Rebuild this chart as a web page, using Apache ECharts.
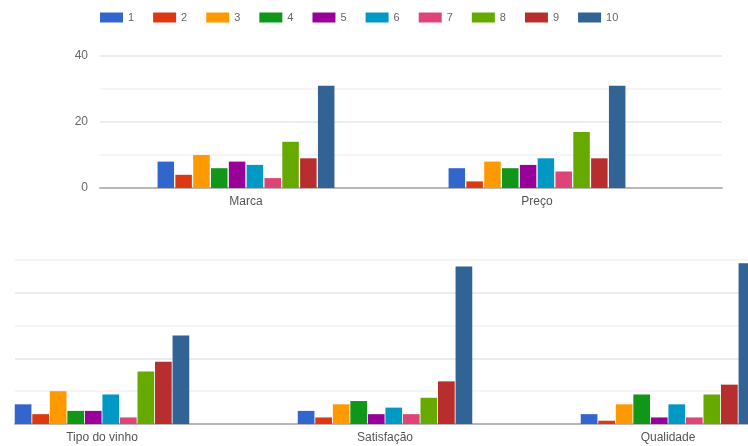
<!DOCTYPE html>
<html>
<head>
<meta charset="utf-8">
<script src="https://cdn.jsdelivr.net/npm/echarts@6/dist/echarts.min.js"></script>
<style>
  html, body { margin: 0; padding: 0; background: #fff; }
  #chart { width: 748px; height: 446px; }
</style>
</head>
<body>
<div id="chart"></div>
<script>
// categories (top row / bottom row)
const catsTop = ['Marca', 'Preço'];
const catsBottom = ['Tipo do vinho', 'Satisfação', 'Qualidade'];

// rating counts, one array per rating: [Marca, Preço, Tipo do vinho, Satisfação, Qualidade]
const r1 = [8, 6, 6, 4, 3];
const r2 = [4, 2, 3, 2, 1];
const r3 = [10, 8, 10, 6, 6];
const r4 = [6, 6, 4, 7, 9];
const r5 = [8, 7, 4, 3, 2];
const r6 = [7, 9, 9, 5, 6];
const r7 = [3, 5, 2, 3, 2];
const r8 = [14, 17, 16, 8, 9];
const r9 = [9, 9, 19, 13, 12];
const r10 = [31, 31, 27, 48, 49];

const ratings = ['1', '2', '3', '4', '5', '6', '7', '8', '9', '10'];
const values = [r1, r2, r3, r4, r5, r6, r7, r8, r9, r10];
const colors = ['#3366cc', '#dc3912', '#ff9900', '#109618', '#990099',
                '#0099c6', '#dd4477', '#66aa00', '#b82e2e', '#316395'];

const FONT = 'Liberation Sans, Arial, sans-serif';
const gridColors = ['#e6e6e6', '#f2f2f2'];

const chart = echarts.init(document.getElementById('chart'));

// grids: 0 = top bars, 1 = top frame, 2 = bottom bars, 3 = bottom frame
const series = [];
ratings.forEach((name, i) => {
    series.push({
        name: name,
        type: 'bar',
        xAxisIndex: 0,
        yAxisIndex: 0,
        barWidth: 16.5,
        barGap: '8%',
        itemStyle: { color: colors[i] },
        data: values[i].slice(0, 2)
    });
    series.push({
        name: name,
        type: 'bar',
        xAxisIndex: 2,
        yAxisIndex: 2,
        barWidth: 16.7,
        barGap: '5%',
        itemStyle: { color: colors[i] },
        data: values[i].slice(2)
    });
});

const frameX = {
    type: 'category',
    data: [''],
    axisLine: { show: true, lineStyle: { color: '#b8b8b8', width: 2 } },
    axisTick: { show: false },
    axisLabel: { show: false }
};

chart.setOption({
    animation: false,
    color: colors,
    textStyle: { fontFamily: FONT },
    legend: {
        data: ratings,
        left: 100,
        top: 12,
        padding: 0,
        icon: 'rect',
        itemWidth: 23,
        itemHeight: 10,
        itemGap: 19,
        textStyle: { fontSize: 11, color: '#666', fontFamily: FONT }
    },
    grid: [
        { left: 100.5, width: 582, top: 56, bottom: 258, outerBoundsMode: 'none' },
        { left: 100, right: 26, top: 56, bottom: 258, outerBoundsMode: 'none' },
        { left: -39.5, width: 849, top: 260, bottom: 22, outerBoundsMode: 'none' },
        { left: 15, right: 0, top: 260, bottom: 22, outerBoundsMode: 'none' }
    ],
    xAxis: [
        {
            gridIndex: 0, type: 'category', data: catsTop,
            axisLine: { show: false }, axisTick: { show: false },
            axisLabel: { fontSize: 12, color: '#555', margin: 8 }
        },
        Object.assign({ gridIndex: 1 }, frameX),
        {
            gridIndex: 2, type: 'category', data: catsBottom,
            axisLine: { show: false }, axisTick: { show: false },
            axisLabel: { fontSize: 12, color: '#555', margin: 8 }
        },
        Object.assign({ gridIndex: 3 }, frameX)
    ],
    yAxis: [
        { gridIndex: 0, type: 'value', min: 0, max: 40, show: false },
        {
            gridIndex: 1, type: 'value', min: 0, max: 40, interval: 10,
            axisLine: { show: false }, axisTick: { show: false },
            axisLabel: {
                fontSize: 12, color: '#666', margin: 12,
                formatter: (v) => (v % 20 === 0 ? v : '')
            },
            splitLine: { lineStyle: { color: gridColors, width: 1.5 } }
        },
        { gridIndex: 2, type: 'value', min: 0, max: 50, show: false },
        {
            gridIndex: 3, type: 'value', min: 0, max: 50, interval: 10,
            axisLine: { show: false }, axisTick: { show: false },
            axisLabel: { show: false },
            splitLine: { lineStyle: { color: gridColors, width: 1.5 } }
        }
    ],
    series: series
});
</script>
</body>
</html>
